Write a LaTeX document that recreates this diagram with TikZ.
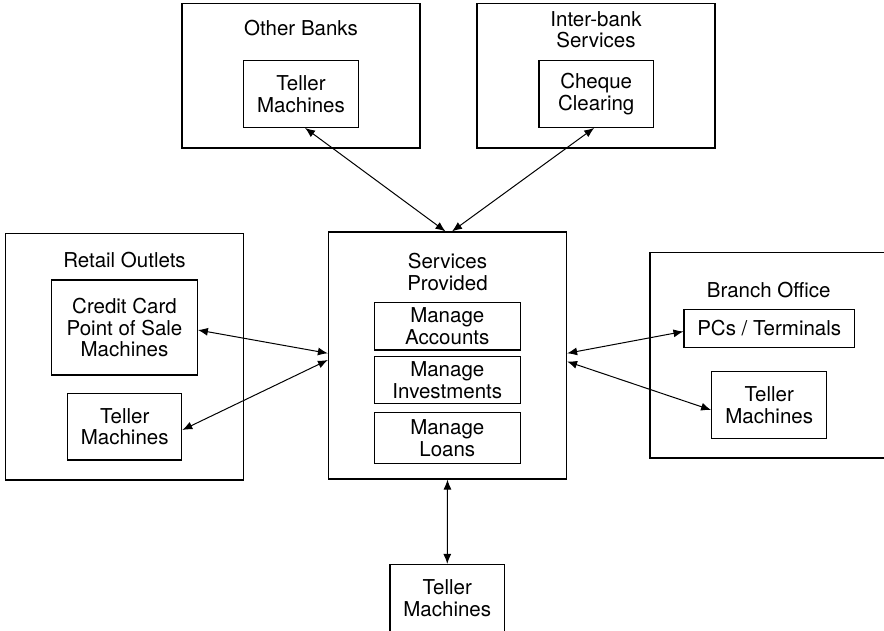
\documentclass[tikz,border=0pt]{standalone}
\usepackage{fontspec}
\setmainfont{TeX Gyre Heros}
\usetikzlibrary{arrows.meta,calc}
\newcommand\dgfont{\fontsize{20.5}{21.8}\selectfont}
\begin{document}
\begin{tikzpicture}[x=1pt,y=-1pt,
  box/.style={draw, line width=1.2pt, inner sep=0pt, align=center, font=\dgfont},
  outer/.style={box, minimum width=238pt},
  title/.style={inner sep=0pt, align=center, font=\dgfont},
  link/.style={line width=1pt, {Latex[length=10pt,width=8pt]}-{Latex[length=10pt,width=8pt]}}]
\useasboundingbox (0,0) rectangle (884,631);
\clip (0,0) rectangle (884,631);

% outer groups
\node[outer, minimum height=144.5pt] (banks)  at (301,75.75) {};
\node[outer, minimum height=144.5pt] (inter)  at (596,75.75) {};
\node[outer, minimum height=246.5pt] (retail) at (124.5,356.75) {};
\node[outer, minimum height=247pt]   (svc)    at (447.5,355.5) {};
\node[outer, minimum height=205.5pt] (branch) at (769,355.25) {};

% group titles
\node[title, anchor=base]  (tBanks)  at (301,35.5)    {Other Banks};
\node[title, anchor=north] (tInter)  at (596,11)      {Inter-bank\\Services};
\node[title, anchor=base]  (tRetail) at (124.5,267.7) {Retail Outlets};
\node[title, anchor=north] (tSvc)    at (447.5,253.3) {Services\\Provided};
\node[title, anchor=base]  (tBranch) at (768.7,297.7) {Branch Office};

% inner boxes
\node[box, minimum width=114.6pt, minimum height=67pt] (bankT)  at (301,93.8)     {Teller\\Machines};
\node[box, minimum width=114.3pt, minimum height=67pt] (cheque) at (596.2,93.8)   {Cheque\\Clearing};
\node[box, minimum width=145.6pt, minimum height=95pt] (credit) at (124.5,327.5)  {Credit Card\\Point of Sale\\Machines};
\node[box, minimum width=114pt, minimum height=66.7pt] (retT)   at (124.7,426.7)  {Teller\\Machines};
\node[box, minimum width=146pt, minimum height=47.3pt] (mAcc)   at (447.3,326.3)  {Manage\\Accounts};
\node[box, minimum width=146pt, minimum height=47pt]   (mInv)   at (447.3,380.2)  {Manage\\Investments};
\node[box, minimum width=146pt, minimum height=50.6pt] (mLoan)  at (447.3,438)    {Manage\\Loans};
\node[box, minimum width=170.3pt, minimum height=38.4pt] (pcs)  at (769.2,328.5)  {PCs / Terminals};
\node[box, minimum width=115pt, minimum height=66.6pt] (brT)    at (769.2,405)    {Teller\\Machines};
\node[box, minimum width=114.5pt, minimum height=67pt] (botT)   at (447.25,598)   {Teller\\Machines};

% connector end points on the box borders
\coordinate (pBank)  at ($(bankT.south)+(4,0)$);
\coordinate (pCheq)  at ($(cheque.south)+(-2,0)$);
\coordinate (sTopL)  at ($(svc.north)+(-2,0)$);
\coordinate (sTopR)  at ($(svc.north)+(4.5,0)$);
\coordinate (pCred)  at ($(credit.east)+(0,2.5)$);
\coordinate (pRetT)  at ($(retT.east)+(0,3.3)$);
\coordinate (sLeftA) at ($(svc.west)+(0,-2.2)$);
\coordinate (sLeftB) at ($(svc.west)+(0,4.5)$);
\coordinate (sRightA) at ($(svc.east)+(0,-2.2)$);
\coordinate (sRightB) at ($(svc.east)+(0,6)$);
\coordinate (pPcs)   at ($(pcs.west)+(0,3)$);
\coordinate (pBrT)   at ($(brT.west)+(0,5)$);

% connectors
\draw[link] (pBank) -- (sTopL);
\draw[link] (pCheq) -- (sTopR);
\draw[link] (pCred) -- (sLeftA);
\draw[link] (pRetT) -- (sLeftB);
\draw[link] (sRightA) -- (pPcs);
\draw[link] (sRightB) -- (pBrT);
\draw[link] (svc.south) -- (botT.north);
\end{tikzpicture}
\end{document}
